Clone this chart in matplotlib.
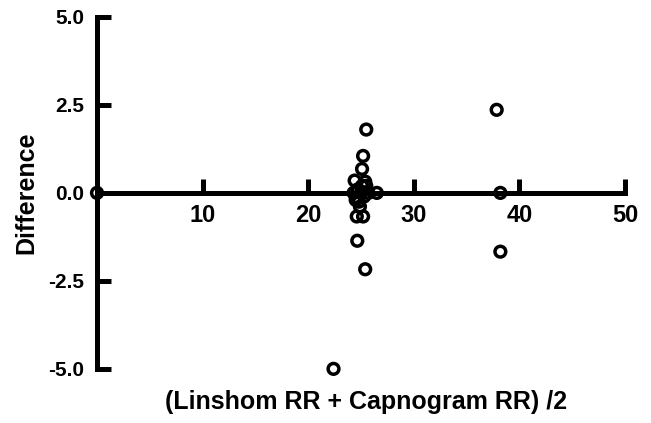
import matplotlib.pyplot as plt

plt.rcParams['font.family'] = ['Liberation Sans', 'DejaVu Sans']
plt.rcParams['font.weight'] = 'bold'

# mean of the two methods vs difference
mean_rr = [0.0, 22.4, 24.3, 24.4, 24.5, 24.6, 24.65, 24.7, 24.8, 24.9, 25.0, 25.1,
           25.1, 25.2, 25.2, 25.3, 25.4, 25.4, 25.5, 25.5, 25.7, 26.5,
           37.85, 38.2, 38.2]
diff_rr = [0.0, -5.0, 0.0, 0.35, -0.2, -0.67, -1.36, 0.1, -0.25, -0.39, 0.0, 0.68,
           0.2, 1.05, -0.67, -0.1, 0.32, -2.17, 1.8, 0.2, 0.0, 0.0,
           2.36, 0.0, -1.67]

xticks = [10, 20, 30, 40, 50]
yticks = [-5.0, -2.5, 0.0, 2.5, 5.0]

fig = plt.figure(figsize=(6.51, 4.23), dpi=100)
ax = fig.add_axes([0.149, 0.128, 0.811, 0.832])

ax.scatter(mean_rr, diff_rr, s=60, facecolors='none', edgecolors='black',
           linewidths=2.5, clip_on=False, zorder=3)

ax.set_xlim(0, 50)
ax.set_ylim(-5, 5)
ax.spines['top'].set_visible(False)
ax.spines['right'].set_visible(False)
ax.spines['bottom'].set_position(('data', 0))
ax.spines['left'].set_linewidth(3.6)
ax.spines['bottom'].set_linewidth(3.6)

ax.set_xticks(xticks)
ax.set_yticks(yticks)
ax.set_yticklabels([f'{v:.1f}' for v in yticks])
ax.tick_params(axis='both', direction='in', length=10, width=3.6)
ax.tick_params(axis='x', labelsize=17, pad=8)
ax.tick_params(axis='y', labelsize=15, pad=9)

ax.set_ylabel('Difference', fontsize=18, fontweight='bold')
ax.yaxis.set_label_coords(-0.134, 0.5)
ax.yaxis.label.set_va('center')
ax.set_xlabel('(Linshom RR + Capnogram RR) /2', fontsize=18, fontweight='bold')
ax.xaxis.set_label_coords(0.51, -0.093)
ax.xaxis.label.set_va('center')

fig.savefig('out.png', dpi=100)
